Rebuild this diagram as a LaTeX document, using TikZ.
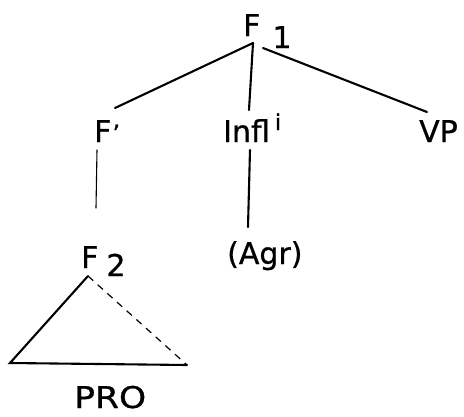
\documentclass[tikz,border=0pt]{standalone}
\usepackage{fontspec}
\setmainfont[FakeBold=0.8]{DejaVu Sans}
\begin{document}
\begin{tikzpicture}[x=1pt,y=-1pt,
  lab/.style={anchor=base west,inner sep=0pt,font=\fontsize{30}{36}\selectfont},
  edge/.style={line width=2.1pt,line cap=round},
  thinedge/.style={line width=1.1pt,line cap=round},
  faint/.style={line width=1.2pt,dash pattern=on 7pt off 6pt}]
\useasboundingbox (0,0) rectangle (464,416);
% labels
\node[lab] (f1) at (243,36) {F\rlap{\hspace{12pt}\raisebox{-12pt}{1}}};
\node[lab] (fp) at (94,142) {F\rlap{\hspace{1pt}\fontsize{24}{28}\selectfont\char"0027}};
\node[lab] (infl) at (223,142) {Infl\rlap{\hspace{5pt}\raisebox{12pt}{\fontsize{22}{26}\selectfont i}}};
\node[lab] (vp) at (419,142) {VP};
\node[lab] (f2) at (81,268) {F\rlap{\hspace{8pt}\raisebox{-8pt}{2}}};
\node[lab] (agr) at (227,264) {(Agr)};
\node[lab,xscale=1.15] (pro) at (74,408) {PRO};
% attachment points
\coordinate (f1s) at (253,43);
\coordinate (f1r) at (263,48);
\coordinate (fpn) at (115,108);
\coordinate (infln) at (249,110);
\coordinate (vpn) at (427,112);
\coordinate (fps) at (97,150);
\coordinate (fpe) at (96,208);
\coordinate (infls) at (250,150);
\coordinate (agrn) at (248,227);
\coordinate (apex) at (88,276);
\coordinate (tl) at (10,363);
\coordinate (tr) at (187,365);
% connectors
\draw[edge] (f1s) -- (fpn);
\draw[edge] (f1s) -- (infln);
\draw[edge] (f1r) -- (vpn);
\draw[thinedge] (fps) -- (fpe);
\draw[edge] (infls) -- (agrn);
\draw[edge] (tr) -- (tl) -- (apex);
\draw[faint] (apex) -- (tr);
\end{tikzpicture}
\end{document}
